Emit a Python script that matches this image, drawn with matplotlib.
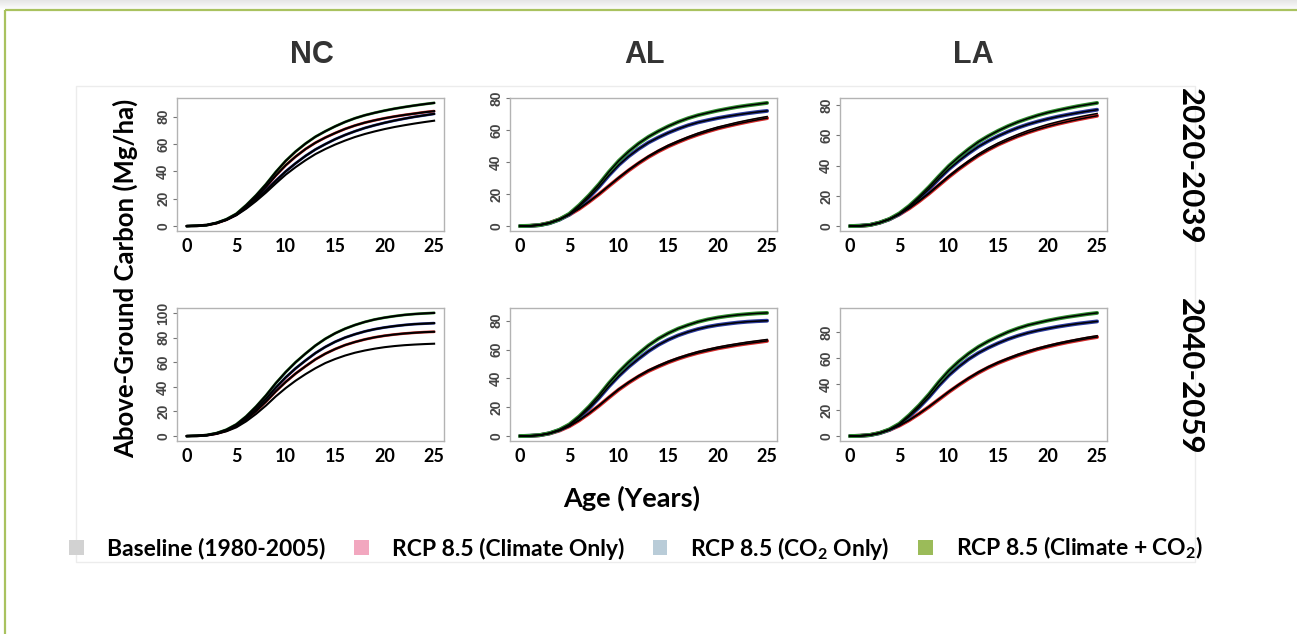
import numpy as np
import matplotlib
matplotlib.use("Agg")
import matplotlib.pyplot as plt
from matplotlib.patches import Patch, Rectangle
from matplotlib.ticker import MultipleLocator

plt.rcParams['font.family'] = ['Lato', 'DejaVu Sans']
plt.rcParams['mathtext.fontset'] = 'custom'
plt.rcParams['mathtext.rm'] = 'Lato:bold'
plt.rcParams['mathtext.it'] = 'Lato:bold'
plt.rcParams['mathtext.bf'] = 'Lato:bold'

# ---------------- data ----------------
ages = list(range(0, 26))
states = ["NC", "AL", "LA"]
periods = ["2020-2039", "2040-2059"]
series_names = ["Baseline (1980-2005)", "RCP 8.5 (Climate Only)",
                "RCP 8.5 (CO$_2$ Only)", "RCP 8.5 (Climate + CO$_2$)"]

# NC 2020-2039
nc_2020_baseline = [0, 0.2, 0.7, 2.2, 4.5, 7.9, 12.7, 18.3, 24.5, 31.2, 37.6, 43.1, 48.1, 52.6, 56.3, 59.6, 62.5, 65.1, 67.3, 69.2, 70.9, 72.4, 73.7, 74.9, 76.0, 77.0]
nc_2020_climate = [0, 0.2, 0.7, 2.1, 4.6, 8.4, 14.3, 21.0, 28.6, 37.0, 44.5, 50.8, 56.3, 60.9, 64.7, 68.0, 71.0, 73.5, 75.6, 77.3, 78.8, 80.1, 81.2, 82.2, 83.2, 84.0]
nc_2020_co2 = [0, 0.2, 0.7, 2.3, 4.8, 8.4, 13.5, 19.5, 26.1, 33.2, 40.0, 45.9, 51.3, 56.0, 59.9, 63.5, 66.6, 69.3, 71.7, 73.7, 75.5, 77.1, 78.5, 79.8, 80.9, 82.0]
nc_2020_both = [0, 0.2, 0.7, 2.3, 5.0, 9.0, 15.3, 22.5, 30.6, 39.6, 47.7, 54.5, 60.3, 65.3, 69.3, 72.9, 76.1, 78.8, 81.0, 82.8, 84.4, 85.8, 87.0, 88.1, 89.1, 90.0]
# NC 2040-2059
nc_2040_baseline = [0, 0.2, 0.6, 1.8, 3.9, 7.1, 12.0, 18.0, 24.8, 32.3, 39.0, 45.0, 50.3, 55.1, 59.3, 62.6, 65.4, 67.7, 69.5, 71.0, 72.2, 73.1, 73.8, 74.3, 74.7, 75.0]
nc_2040_climate = [0, 0.2, 0.7, 2.0, 4.4, 8.0, 13.6, 20.3, 28.0, 36.4, 44.0, 50.8, 56.7, 62.3, 66.9, 70.7, 73.9, 76.4, 78.5, 80.2, 81.5, 82.5, 83.3, 83.9, 84.4, 84.7]
nc_2040_co2 = [0, 0.2, 0.7, 2.2, 4.8, 8.7, 14.7, 22.0, 30.3, 39.4, 47.7, 55.0, 61.4, 67.4, 72.4, 76.6, 80.0, 82.7, 85.0, 86.8, 88.2, 89.3, 90.2, 90.9, 91.3, 91.7]
nc_2040_both = [0, 0.2, 0.8, 2.4, 5.2, 9.5, 16.0, 24.0, 33.0, 43.0, 52.0, 60.0, 67.0, 73.5, 79.0, 83.5, 87.2, 90.2, 92.7, 94.7, 96.2, 97.4, 98.4, 99.1, 99.6, 100.0]
# AL 2020-2039
al_2020_baseline = [0, 0.1, 0.7, 2.1, 4.2, 7.2, 11.0, 15.4, 20.2, 25.3, 30.5, 35.3, 39.7, 43.8, 47.4, 50.6, 53.3, 55.8, 58.1, 60.1, 61.9, 63.4, 64.9, 66.2, 67.4, 68.5]
al_2020_climate = [0, 0.1, 0.7, 2.0, 4.2, 7.1, 10.8, 15.2, 19.9, 25.0, 30.0, 34.8, 39.2, 43.2, 46.7, 49.8, 52.5, 55.0, 57.2, 59.2, 61.0, 62.5, 63.9, 65.2, 66.4, 67.5]
al_2020_co2 = [0, 0.1, 0.6, 1.8, 4.0, 7.2, 12.2, 18.0, 24.5, 31.7, 38.2, 43.6, 48.2, 52.2, 55.4, 58.3, 60.8, 63.0, 64.8, 66.2, 67.5, 68.6, 69.6, 70.5, 71.3, 72.0]
al_2020_both = [0, 0.2, 0.6, 1.9, 4.2, 7.7, 13.1, 19.3, 26.2, 33.9, 40.8, 46.6, 51.6, 55.8, 59.3, 62.4, 65.1, 67.4, 69.3, 70.8, 72.2, 73.4, 74.5, 75.4, 76.2, 77.0]
# AL 2040-2059
al_2040_baseline = [0, 0.1, 0.6, 1.9, 3.9, 6.9, 11.1, 15.9, 21.3, 27.1, 32.7, 37.5, 41.9, 45.8, 49.0, 51.9, 54.4, 56.6, 58.6, 60.2, 61.7, 63.0, 64.1, 65.2, 66.1, 67.0]
al_2040_climate = [0, 0.1, 0.6, 1.8, 3.8, 6.8, 10.9, 15.7, 21.0, 26.7, 32.2, 37.0, 41.3, 45.1, 48.2, 51.1, 53.6, 55.8, 57.7, 59.3, 60.8, 62.0, 63.2, 64.2, 65.1, 66.0]
al_2040_co2 = [0, 0.2, 0.6, 1.9, 4.2, 7.6, 12.8, 19.2, 26.4, 34.4, 41.6, 48.0, 53.6, 58.8, 63.2, 66.8, 69.8, 72.2, 74.2, 75.8, 77.0, 77.9, 78.7, 79.3, 79.7, 80.0]
al_2040_both = [0, 0.2, 0.7, 2.0, 4.4, 8.1, 13.7, 20.5, 28.2, 36.7, 44.4, 51.2, 57.2, 62.8, 67.5, 71.3, 74.5, 77.0, 79.2, 80.9, 82.2, 83.2, 84.0, 84.6, 85.1, 85.4]
# LA 2020-2039
la_2020_baseline = [0, 0.1, 0.7, 2.2, 4.6, 7.8, 11.9, 16.8, 22.0, 27.6, 33.2, 38.4, 43.2, 47.7, 51.6, 55.0, 58.0, 60.7, 63.2, 65.3, 67.3, 69.0, 70.6, 72.0, 73.3, 74.5]
la_2020_climate = [0, 0.1, 0.7, 2.2, 4.5, 7.7, 11.7, 16.4, 21.5, 27.0, 32.5, 37.6, 42.3, 46.7, 50.5, 53.9, 56.8, 59.5, 61.9, 64.0, 65.9, 67.6, 69.1, 70.5, 71.8, 73.0]
la_2020_co2 = [0, 0.2, 0.7, 2.2, 4.5, 7.9, 12.7, 18.3, 24.5, 31.2, 37.6, 43.1, 48.1, 52.6, 56.3, 59.6, 62.5, 65.1, 67.3, 69.2, 70.9, 72.4, 73.7, 74.9, 76.0, 77.0]
la_2020_both = [0, 0.2, 0.7, 2.3, 4.7, 8.4, 13.4, 19.4, 25.9, 33.0, 39.8, 45.6, 50.9, 55.7, 59.6, 63.1, 66.2, 68.9, 71.2, 73.3, 75.1, 76.6, 78.0, 79.3, 80.4, 81.5]
# LA 2040-2059
la_2040_baseline = [0, 0.2, 0.8, 2.3, 4.8, 8.1, 12.3, 17.3, 22.7, 28.5, 34.3, 39.7, 44.7, 49.3, 53.3, 56.8, 59.9, 62.8, 65.3, 67.5, 69.5, 71.3, 72.9, 74.4, 75.8, 77.0]
la_2040_climate = [0, 0.2, 0.8, 2.3, 4.7, 8.0, 12.2, 17.1, 22.4, 28.1, 33.8, 39.1, 44.1, 48.6, 52.6, 56.1, 59.1, 61.9, 64.4, 66.7, 68.6, 70.4, 72.0, 73.4, 74.8, 76.0]
la_2040_co2 = [0, 0.2, 0.7, 2.2, 4.8, 8.8, 15.0, 22.0, 29.9, 38.7, 46.6, 53.2, 59.0, 63.8, 67.8, 71.3, 74.4, 77.0, 79.2, 81.0, 82.5, 83.9, 85.1, 86.2, 87.1, 88.0]
la_2040_both = [0, 0.2, 0.8, 2.4, 5.2, 9.5, 16.1, 23.6, 32.1, 41.6, 50.1, 57.2, 63.3, 68.5, 72.8, 76.5, 79.9, 82.7, 85.1, 86.9, 88.6, 90.1, 91.4, 92.5, 93.6, 94.5]

panel_data = {
    ("NC", "2020-2039"): [nc_2020_baseline, nc_2020_climate, nc_2020_co2, nc_2020_both],
    ("NC", "2040-2059"): [nc_2040_baseline, nc_2040_climate, nc_2040_co2, nc_2040_both],
    ("AL", "2020-2039"): [al_2020_baseline, al_2020_climate, al_2020_co2, al_2020_both],
    ("AL", "2040-2059"): [al_2040_baseline, al_2040_climate, al_2040_co2, al_2040_both],
    ("LA", "2020-2039"): [la_2020_baseline, la_2020_climate, la_2020_co2, la_2020_both],
    ("LA", "2040-2059"): [la_2040_baseline, la_2040_climate, la_2040_co2, la_2040_both],
}

# ---------------- style ----------------
line_colors = ["#9a9a9a", "#d42a2a", "#2b3a9c", "#2e8b2e"]
legend_colors = ["#d2d2d2", "#f2a7bf", "#b9ccd8", "#9bbb59"]

W, H = 1297, 634
fig = plt.figure(figsize=(W / 100, H / 100), dpi=100)
fig.patch.set_facecolor("white")

# background frame (page decoration)
bg = fig.add_axes([0, 0, 1, 1], zorder=-10)
bg.set_xlim(0, W)
bg.set_ylim(H, 0)
bg.axis("off")
grad = np.linspace(0.90, 1.0, 50)
grad_img = np.repeat(grad[:, None, None], 3, axis=2).repeat(4, axis=1)
bg.imshow(grad_img, extent=[0, W, 10, 0], aspect="auto", zorder=0)
bg.plot([5, W], [10, 10], color="#a9c25f", lw=1.6, solid_capstyle="butt", zorder=2)
bg.plot([5, 5], [10, H], color="#a9c25f", lw=1.6, solid_capstyle="butt", zorder=2)
bg.add_patch(Rectangle((76, 86), 1119, 476, fill=False, edgecolor="#ececec", lw=1.0, zorder=1))


def px_axes(l, t, w, h):
    return fig.add_axes([l / W, 1 - (t + h) / H, w / W, h / H])


col_left = [177, 510, 840]
row_top = [98, 308]
aw, ah = 267, 133

for ci, st in enumerate(states):
    for ri, per in enumerate(periods):
        ax = px_axes(col_left[ci], row_top[ri], aw, ah)
        vals = panel_data[(st, per)]
        band_lw = 2.0 if st == "NC" else 2.8
        for si in range(4):
            if si > 0:
                ax.plot(ages, vals[si], color=line_colors[si], lw=band_lw,
                        solid_capstyle="round", zorder=2)
            ax.plot(ages, vals[si], color="black", lw=1.1 if st != "NC" else 1.5, zorder=3)
        ax.margins(x=0.04, y=0.04)
        ax.xaxis.set_major_locator(MultipleLocator(5))
        ax.yaxis.set_major_locator(MultipleLocator(20))
        for sp in ax.spines.values():
            sp.set_color("#b3b3b3")
            sp.set_linewidth(1.0)
        ax.tick_params(axis="x", length=0, pad=5, labelsize=13, colors="black")
        ax.tick_params(axis="y", length=3, width=0.8, color="#777777", pad=2,
                       labelsize=10, labelcolor="#444444")
        for lab in ax.get_xticklabels():
            lab.set_fontweight("bold")
        for lab in ax.get_yticklabels():
            lab.set_rotation(90)
            lab.set_va("center")
            lab.set_family("Liberation Sans")
            lab.set_fontweight("bold")

# column titles
title_x = [312, 645, 973]
for ci, st in enumerate(states):
    fig.text(title_x[ci] / W, 1 - 55 / H, st, ha="center", va="center",
             fontsize=22, fontweight="bold", color="#333333", family="Liberation Sans")

# row labels
row_y = [166, 376]
for ri, per in enumerate(periods):
    fig.text(1190 / W, 1 - row_y[ri] / H, per, ha="center", va="center",
             rotation=-90, fontsize=22.5, fontweight="bold", color="black")

fig.text(125 / W, 1 - 278 / H, "Above-Ground Carbon (Mg/ha)", ha="center", va="center",
         rotation=90, fontsize=18.5, fontweight="bold", color="black")
fig.text(632 / W, 1 - 498 / H, "Age (Years)", ha="center", va="center",
         fontsize=19.5, fontweight="bold", color="black")

handles = [Patch(facecolor=c, edgecolor="none") for c in legend_colors]
leg = fig.legend(handles, series_names, loc="center", ncol=4,
                 bbox_to_anchor=(636 / W, 1 - 548 / H), frameon=False,
                 prop={"family": "Lato", "weight": "bold", "size": 16.5},
                 handlelength=0.65, handleheight=0.65, handletextpad=1.0,
                 columnspacing=1.25, borderaxespad=0)

fig.savefig("out.png", dpi=100, facecolor="white")
